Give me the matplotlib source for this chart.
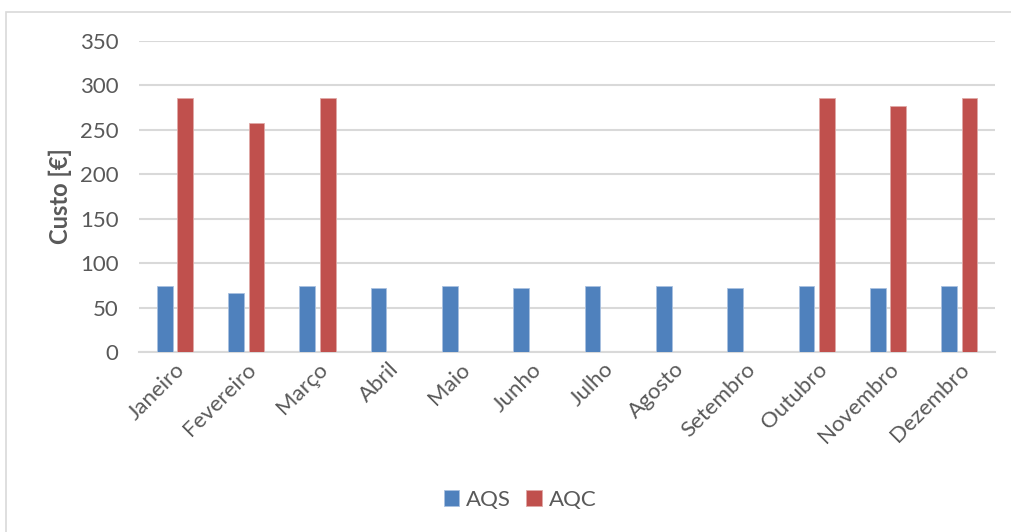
import numpy as np
import matplotlib
matplotlib.use("Agg")
import matplotlib.pyplot as plt
from matplotlib.patches import Rectangle

plt.rcParams["font.family"] = ["Lato", "DejaVu Sans"]

months = ["Janeiro", "Fevereiro", "Março", "Abril", "Maio", "Junho",
          "Julho", "Agosto", "Setembro", "Outubro", "Novembro", "Dezembro"]
aqs = [74, 67, 74, 72, 74, 72, 74, 74, 72, 74, 72, 74]
aqc = [286, 258, 286, 0, 0, 0, 0, 0, 0, 286, 277, 286]

text_col = "#595959"
grid_col = "#d9d9d9"

fig = plt.figure(figsize=(10.11, 5.32), dpi=100)
ax = fig.add_axes([0.1378, 0.3378, 0.8464, 0.5857])

x = np.arange(len(months))
w = 0.22
off = 0.144
ax.bar(x - off, aqs, width=w, color="#4F81BD", edgecolor="#a9c1e0",
       linewidth=0.6, label="AQS", zorder=3)
ax.bar(x + off, aqc, width=w, color="#C0504D", edgecolor="#e0a9a7",
       linewidth=0.6, label="AQC", zorder=3)

ax.set_xlim(-0.5, len(months) - 0.5)
ax.set_ylim(0, 350)
ax.set_yticks(range(0, 351, 50))
ax.grid(axis="y", color=grid_col, linewidth=1.5, zorder=0)
for s in ["top", "right", "left"]:
    ax.spines[s].set_visible(False)
ax.spines["bottom"].set_color(grid_col)
ax.spines["bottom"].set_linewidth(1.5)
ax.tick_params(length=0, colors=text_col, labelsize=16)
ax.tick_params(axis="y", pad=15)
ax.set_xticks(x)
ax.set_xticklabels(months, rotation=45, ha="right", rotation_mode="anchor")
ax.tick_params(axis="x", pad=5)

ax.set_ylabel("Custo [€]", fontsize=17, fontweight="bold", color=text_col,
              labelpad=6)

fig.legend(loc="center", bbox_to_anchor=(520 / 1011, 1 - 500 / 532), ncol=2,
           frameon=False, fontsize=16, handlelength=0.7, handleheight=0.7,
           handletextpad=0.3, columnspacing=0.7, labelcolor=text_col)

fig.patches.append(Rectangle((6 / 1011, -0.1), 1.1, 1 - 12 / 532 + 0.1,
                             transform=fig.transFigure, fill=False,
                             edgecolor=grid_col, linewidth=1.2))

fig.savefig("out.png", dpi=100)
